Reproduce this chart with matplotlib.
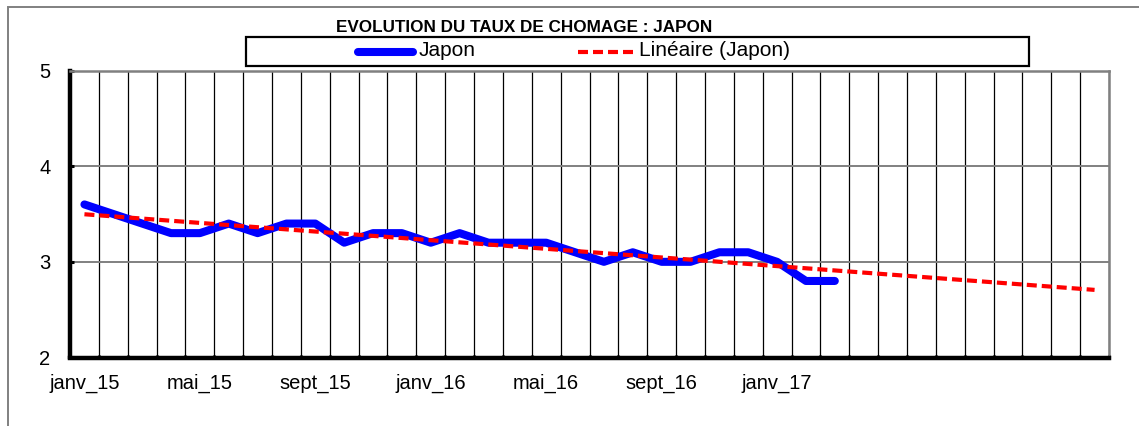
import numpy as np
import matplotlib
matplotlib.use("Agg")
import matplotlib.pyplot as plt
from matplotlib import font_manager
from matplotlib.lines import Line2D
from matplotlib.patches import Rectangle

# data: monthly unemployment rate, Japan
months = ["janv_15", "févr_15", "mars_15", "avr_15", "mai_15", "juin_15",
          "juil_15", "août_15", "sept_15", "oct_15", "nov_15", "déc_15",
          "janv_16", "févr_16", "mars_16", "avr_16", "mai_16", "juin_16",
          "juil_16", "août_16", "sept_16", "oct_16", "nov_16", "déc_16",
          "janv_17", "févr_17", "mars_17"]
japon = [3.6, 3.5, 3.4, 3.3, 3.3, 3.4, 3.3, 3.4, 3.4, 3.2, 3.3, 3.3,
         3.2, 3.3, 3.2, 3.2, 3.2, 3.1, 3.0, 3.1, 3.0, 3.0, 3.1, 3.1,
         3.0, 2.8, 2.8]
n_slots = 36          # category axis runs to déc_17 (trend forecast)
label_step = 4
y_ticks = [2, 3, 4, 5]

W, H = 1139, 426
plt.rcParams['font.family'] = ['Liberation Sans', 'DejaVu Sans']

fig = plt.figure(figsize=(W / 100, H / 100), dpi=100)
ax = fig.add_axes([70 / W, 1 - 357.5 / H, (1109 - 70) / W, (357.5 - 70.5) / H])

x = np.arange(len(japon))
ax.plot(x, japon, color='#0000FF', lw=5.8, solid_capstyle='round',
        solid_joinstyle='round', zorder=3)

# linear trend (Excel style), extended forward over the empty months
coef = np.polyfit(x, japon, 1)
xt = np.arange(n_slots)
ax.plot(xt, np.polyval(coef, xt), color='#FF0000', lw=3, dashes=(2.4, 1.2),
        zorder=4)

ax.set_xlim(-0.5, n_slots - 0.5)
ax.set_ylim(2, 5)

ax.set_xticks(x[::label_step])
ax.set_xticklabels(months[::label_step], fontsize=14.5)
ax.set_xticks(np.arange(n_slots + 1) - 0.5, minor=True)
ax.tick_params(axis='x', which='major', length=0, pad=12)
ax.tick_params(axis='x', which='minor', direction='in', length=2.5, width=2.2,
               color='black')
ax.set_yticks(y_ticks)
ax.set_yticklabels([str(v) for v in y_ticks], fontsize=14.5)
ax.tick_params(axis='y', direction='in', length=3, width=2.2, pad=14)

ax.grid(True, axis='x', which='minor', color='black', lw=0.9)
ax.grid(True, axis='y', which='major', color='#808080', lw=1.4)
ax.set_axisbelow(True)

for side in ['left', 'bottom']:
    ax.spines[side].set_linewidth(3.2)
    ax.spines[side].set_color('black')
for side in ['top', 'right']:
    ax.spines[side].set_linewidth(1.8)
    ax.spines[side].set_color('#808080')

# title (narrow bold if available)
names = {f.name for f in font_manager.fontManager.ttflist}
if 'Liberation Sans Narrow' in names:
    fig.text(524.5 / W, 1 - 27 / H, "EVOLUTION DU TAUX DE CHOMAGE : JAPON",
             family='Liberation Sans Narrow', fontweight='bold', fontsize=14.8,
             ha='center', va='center')
else:
    fig.text(524.5 / W, 1 - 27 / H, "EVOLUTION DU TAUX DE CHOMAGE : JAPON",
             fontweight='bold', fontsize=12.3, ha='center', va='center')

# legend box, drawn in figure pixels
def px(xp, yp):
    return xp / W, 1 - yp / H

fig.add_artist(Rectangle(px(246, 66), (1029 - 246) / W, 29 / H,
                         transform=fig.transFigure, fill=False,
                         edgecolor='black', lw=1.6))
lx, ly = zip(px(358, 52), px(413, 52))
fig.add_artist(Line2D(lx, ly, transform=fig.transFigure, color='#0000FF',
                      lw=5.8, solid_capstyle='round'))
fig.text(*px(419, 51), "Japon", fontsize=15, ha='left', va='center')
lx, ly = zip(px(578, 52), px(634, 52))
fig.add_artist(Line2D(lx, ly, transform=fig.transFigure, color='#FF0000',
                      lw=3, dashes=(2.4, 1.2)))
fig.text(*px(639, 51), "Linéaire (Japon)", fontsize=15, ha='left', va='center')

# outer chart frame
fig.add_artist(Rectangle(px(8, 440), 1.2, (440 - 7) / H,
                         transform=fig.transFigure, fill=False,
                         edgecolor='#808080', lw=1.4))

fig.savefig("out.png", dpi=100)
